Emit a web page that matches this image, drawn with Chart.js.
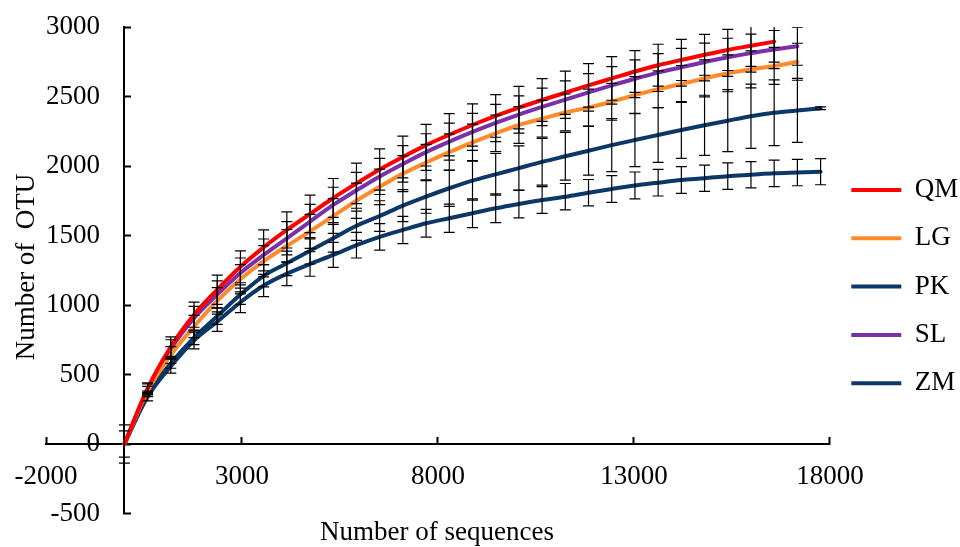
<!DOCTYPE html>
<html>
<head>
<meta charset="utf-8">
<title>OTU rarefaction</title>
<script src="https://cdn.jsdelivr.net/npm/chart.js@4.4.1/dist/chart.umd.min.js"></script>
<style>
  html, body { margin: 0; padding: 0; background: #fff; }
</style>
</head>
<body>
<canvas id="otuChart" width="960" height="547"></canvas>
<script>
// sequencing depth of each rarefaction step
const sequences = [0, 592, 1184, 1776, 2368, 2960, 3552, 4144, 4736, 5328, 5920,
  6512, 7104, 7696, 8288, 8880, 9472, 10064, 10656, 11248, 11840,
  12432, 13024, 13616, 14208, 14800, 15392, 15984, 16576, 17168, 17760];

// mean OTU counts per site
const qm = [0, 400, 700, 930, 1110, 1275, 1415, 1540, 1655, 1770, 1875, 1975, 2065, 2150, 2225,
  2295, 2360, 2420, 2475, 2527, 2580, 2630, 2680, 2725, 2763, 2800, 2835, 2865, 2895];
const lg = [0, 380, 640, 845, 1030, 1185, 1315, 1425, 1530, 1640, 1750, 1850, 1945, 2025, 2100,
  2170, 2235, 2295, 2340, 2385, 2420, 2462, 2510, 2552, 2590, 2630, 2667, 2695, 2720, 2750];
const pk = [0, 360, 580, 765, 920, 1075, 1210, 1300, 1390, 1480, 1570, 1640, 1715, 1780, 1840,
  1895, 1940, 1985, 2030, 2070, 2110, 2150, 2187, 2223, 2259, 2293, 2326, 2358, 2383, 2400, 2415];
const sl = [0, 395, 685, 905, 1075, 1230, 1360, 1480, 1600, 1720, 1825, 1925, 2015, 2100, 2175,
  2245, 2310, 2370, 2425, 2477, 2530, 2580, 2628, 2672, 2710, 2748, 2782, 2812, 2838, 2862];
const zm = [0, 340, 560, 745, 880, 1020, 1140, 1225, 1295, 1360, 1430, 1490, 1540, 1588, 1624,
  1660, 1696, 1727, 1755, 1779, 1808, 1835, 1860, 1880, 1899, 1912, 1927, 1937, 1947, 1953, 1959];

// standard deviations (error bars)
const qmSd = [0, 40, 70, 90, 105, 115, 125, 130, 135, 140, 145, 148, 150, 150, 152,
  152, 153, 153, 154, 155, 157, 157, 150, 151, 148, 147, 148, 148, 148];
const lgSd = [0, 35, 60, 80, 95, 105, 112, 118, 122, 125, 127, 128, 130, 130, 131,
  131, 132, 132, 132, 133, 133, 133, 133, 133, 133, 133, 133, 133, 133, 133];
const pkSd = [138, 20, 35, 50, 60, 70, 80, 88, 95, 100, 105, 110, 115, 120, 130,
  140, 150, 160, 168, 172, 175, 191, 192, 197, 204, 216, 223, 231, 237, 230, 10];
const slSd = [0, 38, 65, 85, 98, 108, 115, 120, 124, 127, 129, 130, 131, 132, 133,
  133, 134, 134, 135, 135, 135, 135, 136, 136, 136, 136, 137, 137, 137, 137];
const zmSd = [94, 30, 50, 60, 70, 75, 80, 85, 88, 90, 92, 95, 98, 100, 102,
  103, 104, 100, 96, 95, 95, 96, 97, 96, 96, 95, 95, 95, 95, 95, 94];

const xTicks = [-2000, 3000, 8000, 13000, 18000];
const yTicks = [-500, 0, 500, 1000, 1500, 2000, 2500, 3000];

const SERIF = '"Liberation Serif", "Times New Roman", serif';
Chart.defaults.font.family = SERIF;
Chart.defaults.color = '#000';

const points = vals => vals.map((v, i) => ({ x: sequences[i], y: v }));

function series(label, vals, sd, color) {
  return {
    label: label,
    data: points(vals),
    errors: sd,
    borderColor: color,
    backgroundColor: color,
    borderWidth: 4,
    borderCapStyle: 'round',
    pointRadius: 0,
    cubicInterpolationMode: 'monotone',
    fill: false
  };
}

// the axes cross inside the plot, so their labels must not push the plot area in
const noLabelPadding = axis => {
  axis.paddingTop = 0;
  axis.paddingBottom = 0;
  axis.paddingLeft = 0;
  axis.paddingRight = 0;
};

// y labels of an axis placed at x = 0 ignore ticks.padding, so move them off the line here
const yLabelGap = {
  id: 'yLabelGap',
  beforeDraw(chart) {
    const { x, y } = chart.scales;
    const right = x.getPixelForValue(0) - 24.4;
    y.getLabelItems().forEach(item => { item.options.translation[0] = right; });
  }
};

// black whiskers with caps, one per point
const errorBars = {
  id: 'errorBars',
  afterDatasetsDraw(chart) {
    const { ctx, chartArea, scales: { x, y } } = chart;
    ctx.save();
    ctx.beginPath();
    ctx.rect(chartArea.left, chartArea.top, chartArea.width, chartArea.height);
    ctx.clip();
    ctx.strokeStyle = '#000';
    ctx.lineWidth = 1.2;
    chart.data.datasets.forEach(ds => {
      ds.data.forEach((p, i) => {
        const e = ds.errors[i];
        if (!e) return;
        const px = x.getPixelForValue(p.x);
        const top = y.getPixelForValue(p.y + e);
        const bot = y.getPixelForValue(p.y - e);
        ctx.beginPath();
        ctx.moveTo(px, top); ctx.lineTo(px, bot);
        ctx.moveTo(px - 5.5, top); ctx.lineTo(px + 5.5, top);
        ctx.moveTo(px - 5.5, bot); ctx.lineTo(px + 5.5, bot);
        ctx.stroke();
      });
    });
    ctx.restore();
  }
};

// axis titles sit at the canvas edges, away from the crossing axes
const axisTitles = {
  id: 'axisTitles',
  afterDraw(chart) {
    const ctx = chart.ctx;
    ctx.save();
    ctx.fillStyle = '#000';
    ctx.font = '27px ' + SERIF;
    ctx.textAlign = 'center';
    ctx.textBaseline = 'alphabetic';
    ctx.fillText('Number of sequences', 437, 540);
    ctx.translate(33.5, 267);
    ctx.rotate(-Math.PI / 2);
    ctx.fillText('Number of  OTU', 0, 0);
    ctx.restore();
  }
};

new Chart(document.getElementById('otuChart'), {
  type: 'line',
  data: {
    datasets: [
      series('QM', qm, qmSd, '#FF0000'),
      series('LG', lg, lgSd, '#FF8A2A'),
      series('PK', pk, pkSd, '#0B3868'),
      series('SL', sl, slSd, '#7A30A8'),
      series('ZM', zm, zmSd, '#0B3868')
    ]
  },
  options: {
    responsive: false,
    animation: false,
    layout: { autoPadding: false, padding: { left: 46, top: 27, right: -8.3, bottom: 33.5 } },
    plugins: {
      tooltip: { enabled: false },
      legend: {
        position: 'right',
        align: 'center',
        title: { display: true, text: '', font: { size: 10 }, padding: { top: 0, bottom: 20.7 } },
        labels: {
          usePointStyle: true,
          pointStyle: 'line',
          pointStyleWidth: 50,
          padding: 21.3,
          color: '#000',
          font: { size: 27 }
        }
      }
    },
    scales: {
      x: {
        type: 'linear',
        min: -2000,
        max: 18000,
        position: { y: 0 },
        afterBuildTicks: axis => { axis.ticks = xTicks.map(v => ({ value: v })); },
        afterFit: noLabelPadding,
        ticks: { padding: 24.8, autoSkip: false, maxRotation: 0, font: { size: 27 }, color: '#000', callback: v => String(v) },
        grid: { color: 'transparent', tickColor: '#000', tickLength: -8, tickWidth: 2 },
        border: { color: '#000', width: 2 }
      },
      y: {
        type: 'linear',
        min: -500,
        max: 3000,
        position: { x: 0 },
        afterBuildTicks: axis => { axis.ticks = yTicks.map(v => ({ value: v })); },
        afterFit: noLabelPadding,
        ticks: { padding: 0, autoSkip: false, font: { size: 27 }, color: '#000', callback: v => String(v) },
        grid: { color: 'transparent', tickColor: '#000', tickLength: -8, tickWidth: 2 },
        border: { color: '#000', width: 2 }
      }
    }
  },
  plugins: [yLabelGap, errorBars, axisTitles]
});
</script>
</body>
</html>
